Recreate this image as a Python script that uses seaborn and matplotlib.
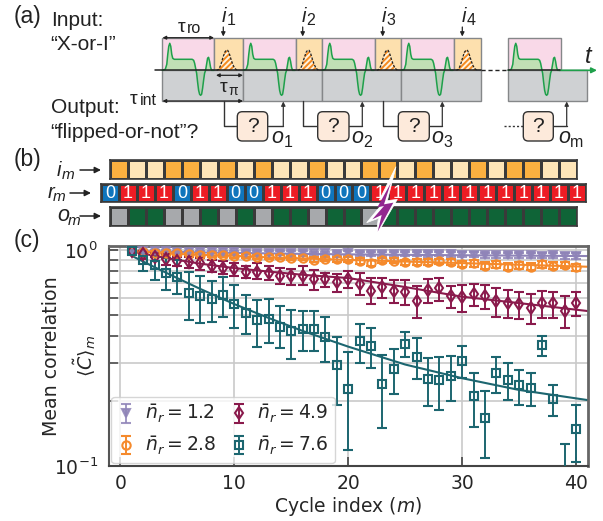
import numpy as np
import pandas as pd
import matplotlib
matplotlib.use("Agg")
import matplotlib.pyplot as plt
from matplotlib.colors import ListedColormap
from matplotlib.patches import Rectangle, Polygon, FancyBboxPatch
import seaborn as sns

# ---------- data: panel (c) ----------
cycles = list(range(1, 41))
purple_c = [.993,.989,.989,.986,.982,.982,.979,.979,.975,.975,.972,.972,.968,.972,.968,.968,.965,.965,.962,.965,
            .962,.958,.962,.958,.962,.958,.955,.958,.955,.951,.951,.948,.948,.944,.948,.944,.941,.944,.941,.941]
purple_e = [.004,.008,.010,.010,.012,.012,.014,.014,.015,.015,.016,.016,.017,.017,.018,.018,.018,.019,.019,.020,
            .020,.021,.021,.022,.022,.022,.023,.023,.024,.024,.025,.025,.025,.026,.026,.026,.027,.027,.028,.028]
orange_c = [.993,.975,.972,.965,.965,.955,.948,.948,.945,.941,.935,.928,.928,.928,.918,.918,.902,.909,.905,.905,
            .889,.874,.896,.893,.877,.883,.883,.886,.883,.864,.867,.846,.858,.837,.849,.837,.858,.846,.852,.834]
orange_e = [.005,.012,.014,.015,.015,.016,.017,.018,.018,.019,.020,.020,.021,.021,.022,.022,.023,.023,.024,.024,
            .025,.026,.025,.026,.027,.026,.027,.026,.027,.028,.028,.030,.029,.031,.030,.031,.030,.031,.030,.032]
maroon_c = [.993,.955,.931,.912,.893,.877,.867,.843,.826,.817,.788,.794,.783,.761,.755,.761,.731,.734,.708,.731,
            .694,.648,.676,.648,.641,.583,.650,.664,.612,.608,.625,.612,.581,.570,.560,.541,.566,.566,.522,.566]
maroon_lo = [.975,.909,.889,.852,.846,.822,.808,.788,.772,.761,.740,.732,.726,.696,.689,.689,.653,.676,.642,.664,
             .619,.562,.602,.570,.557,.486,.566,.581,.541,.514,.552,.533,.491,.482,.478,.453,.486,.486,.434,.495]
maroon_hi = [1.0,.990,.965,.955,.931,.931,.915,.899,.889,.867,.846,.867,.846,.822,.814,.846,.808,.780,.775,.800,
             .780,.739,.745,.726,.726,.681,.731,.739,.684,.689,.694,.689,.664,.653,.637,.625,.646,.641,.612,.637]
teal_c = [.993,.896,.849,.785,.748,.630,.610,.591,.617,.561,.513,.472,.481,.440,.420,.430,.430,.394,.294,.227,
          .378,.359,.239,.281,.366,.321,.254,.250,.260,.307,.212,.166,.269,.251,.236,.230,.362,.204,.090,.148]
teal_lo = [.975,.799,.729,.653,.626,.472,.461,.466,.489,.434,.407,.357,.371,.352,.313,.340,.341,.303,.191,.119,
           .299,.284,.150,.215,.321,.253,.190,.181,.200,.255,.152,.109,.217,.203,.192,.190,.322,.171,.060,.104]
teal_hi = [1.0,.965,.931,.915,.899,.788,.760,.721,.748,.689,.617,.587,.593,.552,.529,.520,.522,.488,.397,.336,
           .454,.434,.325,.347,.419,.391,.317,.321,.323,.359,.270,.222,.319,.300,.278,.270,.401,.236,.126,.191]

fit_m = [1, 3, 5, 7, 10, 13, 16, 20, 25, 30, 35, 41]
fit_purple = [.99, .985, .98, .975, .97, .965, .96, .955, .95, .946, .942, .938]
fit_orange = [.99, .975, .96, .95, .94, .925, .915, .90, .885, .87, .855, .837]
fit_maroon = [.985, .94, .90, .865, .825, .795, .768, .742, .674, .608, .568, .522]
fit_teal = [.94, .833, .741, .661, .562, .485, .422, .357, .295, .255, .225, .202]

labels_n = ["1.2", "2.8", "4.9", "7.6"]

# ---------- data: panel (b) ----------
input_bits  = [1,0,0,1,1,0,1,0,1,0,0,1,0,0,1,1,0,1,0,0,1,0,1,1,0,0]
result_bits = [0,1,1,1,0,1,1,0,0,1,1,1,0,0,0,1,1,1,1,1,1,1,1,1,1,1,1]
output_bits = [0,1,1,0,0,1,0,1,0,1,1,0,1,1,0,1,1,1,1,1,1,1,1,1,1,1]

# ---------- data: panel (a) schematic profiles ----------
sig_dx = [0,3,4.5,5.5,6.5,7.5,8.5,9.5,10.5,12,14,20,30,31.5,32.5,33.5,34.5,35.5,36.5,37.5,38.5,39.5,40.5,41.5,42.5,43.5,
          44.5,45.5,46.5,47.5,48.5,49.5,52]
sig_dy = [0,1,6,16,24,27,24,16,12,11,11,11,11,10,7,2,-3,-12,-20,-24,-25,-24,-18,-10,-3,0,
          6,12,13,9,3,0,0]
bump_dx = [0,2,4,6,8,9.5,11,12.5,14,16,18,20.5]
bump_dy = [0,1,5,12,18,20,20,17,12,6,2,0]

W, H = 603, 521
FONT = "Liberation Sans"
sns.set_theme(style="whitegrid")
plt.rcParams["font.family"] = ["DejaVu Sans"]
plt.rcParams["hatch.linewidth"] = 1.4
fig = plt.figure(figsize=(W / 100, H / 100), dpi=100)


def px_axes(x0, y0, x1, y1, **kw):
    return fig.add_axes([x0 / W, 1 - y1 / H, (x1 - x0) / W, (y1 - y0) / H], **kw)


# ---------- panel (c) ----------
ax = px_axes(109, 246, 587.5, 466)
ax.set_yscale("log")
series = [
    (purple_c, purple_e, None, "#8f84b8", "v", fit_purple),
    (orange_c, orange_e, None, "#f58a2c", "o", fit_orange),
    (maroon_c, maroon_lo, maroon_hi, "#8a1a4c", "d", fit_maroon),
    (teal_c, teal_lo, teal_hi, "#1c6670", "s", fit_teal),
]
for (c, lo, hi, col, mk, fit), lab in zip(series, labels_n):
    c_arr = np.array(c)
    if hi is None:
        yerr = [np.array(lo), np.array(lo)]
    else:
        yerr = [c_arr - np.array(lo), np.array(hi) - c_arr]
    fit_df = pd.DataFrame({"m": fit_m, "v": fit})
    sns.lineplot(data=fit_df, x="m", y="v", ax=ax, color=col, lw=1.5, errorbar=None,
                 legend=False, zorder=2)
    ax.errorbar(cycles, c, yerr=yerr, fmt=mk, color=col, mfc="none" if mk != "v" else col,
                mec=col, ms=6 if mk != "d" else 6.5, mew=1.5, elinewidth=1.4, capsize=3.8, capthick=1.4,
                label=r"$\bar{n}_r = %s$" % lab, zorder=3,
                alpha=0.85 if mk == "v" else 1)
ax.set_xlim(-1, 41)
ax.set_ylim(0.1, 1.044)
ax.set_xticks([0, 10, 20, 30, 40])
ax.grid(True, which="major", color="#c9c9c9", lw=1.2)
ax.grid(True, which="minor", axis="y", color="#c9c9c9", lw=1.2)
ax.set_axisbelow(True)
ax.tick_params(axis="both", which="major", direction="in", length=6.5, width=1.2, color="#444444",
               labelsize=13.5, labelcolor="#262626", pad=6, left=True, bottom=True)
ax.tick_params(axis="y", which="minor", direction="in", length=6.5, width=1.1, color="#444444", left=True)
ax.tick_params(axis="y", which="major", pad=8)
for s, col, lw in [("left", "#555555", 1.5), ("bottom", "#444444", 1.5), ("top", "#666666", 2), ("right", "#666666", 2)]:
    ax.spines[s].set_color(col)
    ax.spines[s].set_linewidth(lw)
    ax.spines[s].set_visible(True)
ax.set_xlabel(r"Cycle index ($m$)", fontsize=13.5, color="#262626", labelpad=1)
ax.set_ylabel("Mean correlation\n" + r"$\langle\tilde{C}\rangle_m$", fontsize=13.7, color="#262626", linespacing=1.5)
ax.yaxis.set_label_coords(-0.024, 0.5)
leg = ax.legend(ncol=2, loc="lower left", bbox_to_anchor=(0.004, 0.012), borderaxespad=0, fontsize=13.5,
                frameon=True, framealpha=0.8, edgecolor="#cccccc", columnspacing=0.75, handletextpad=0.5,
                handlelength=0.95, labelspacing=0.5, borderpad=0.35, fancybox=True)
for t in leg.get_texts():
    t.set_color("#262626")

# ---------- panel (b): heatmaps ----------
ink = "#3a3a3a"
rows = [
    ((110.3, 160.3, 576.7, 179), input_bits, ["#fee5b8", "#fbb040"], False),
    ((101, 184, 586, 202.3), result_bits, ["#0f75bc", "#ed1c24"], True),
    ((110.3, 207.3, 576.7, 226), output_bits, ["#a7a9ac", "#0f6437"], False),
]
for box, bits, cols, annot in rows:
    hax = px_axes(*box)
    arr = np.array([bits])
    sns.heatmap(arr, ax=hax, cmap=ListedColormap(cols), vmin=0, vmax=1, cbar=False, linewidths=0.8,
                linecolor=ink, annot=annot, fmt="d",
                annot_kws={"color": "white", "fontsize": 13, "family": FONT})
    hax.set_xticks([])
    hax.set_yticks([])
    hax.set_xlabel("")
    hax.set_ylabel("")
    for s in hax.spines.values():
        s.set_visible(True)
        s.set_color(ink)
        s.set_linewidth(1.2)

# ---------- overlay in pixels: panel (a), labels ----------
ov = fig.add_axes([0, 0, 1, 1], zorder=5)
ov.set_xlim(0, W)
ov.set_ylim(H, 0)
ov.axis("off")
ov.patch.set_alpha(0)

PINK, LORANGE, GRAY, EDGE = "#f9d9e8", "#fde0ae", "#cfd1d3", "#858789"
GLINE, GFILL = "#1fa04b", "#c1dfb5"
top, base, bot = 37.7, 70.3, 100.7
cycles_a = [(162.3, 214.3, 243.3), (243.3, 295.7, 322.3), (322.3, 374.7, 401.3), (401.3, 454, 481)]


def txt(x, y, s, size=15, style="normal", family=FONT, **kw):
    kw.setdefault("color", "#222222")
    ov.text(x, y, s, fontsize=size, style=style, family=family, va="baseline", ha=kw.pop("ha", "left"), **kw)


def arrow(x0, y0, x1, y1, style="-|>", lw=0.9, col="#222222", ms=7):
    ov.annotate("", xy=(x1, y1), xytext=(x0, y0),
                arrowprops=dict(arrowstyle=style, lw=lw, color=col, shrinkA=0, shrinkB=0, mutation_scale=ms))


def signal(x0):
    xs = x0 + np.array(sig_dx) * 0.995
    ys = base - np.array(sig_dy)
    ov.fill_between(xs, base, ys, where=np.array(sig_dy) >= 0, color=GFILL, lw=0, zorder=3, interpolate=True)
    ov.fill_between(xs, base, ys, where=np.array(sig_dy) <= 0, color="#b6cdb6", lw=0, zorder=3, interpolate=True)
    ov.plot(xs, ys, color=GLINE, lw=1.1, zorder=4)


def bump(x0):
    xs = x0 + np.array(bump_dx)
    ys = base - np.array(bump_dy)
    poly = Polygon(np.c_[xs, ys], closed=True, facecolor="#fff4df", edgecolor="#f58a1f", hatch="//////", lw=0, zorder=3)
    ov.add_patch(poly)
    ov.plot(xs, ys, color="#222222", lw=0.9, ls=(0, (2, 1.2)), zorder=4)


for x0, x1, x2 in cycles_a:
    ov.add_patch(Rectangle((x0, top), x1 - x0, base - top, fc=PINK, ec=EDGE, lw=1.0, zorder=1))
    ov.add_patch(Rectangle((x1, top), x2 - x1, base - top, fc=LORANGE, ec=EDGE, lw=1.0, zorder=1))
    ov.add_patch(Rectangle((x0, base), x2 - x0, bot - base, fc=GRAY, ec=EDGE, lw=1.0, zorder=1))
    signal(x0)
    bump(x1 + 2.4)
ov.add_patch(Rectangle((508.3, top), 52.4, base - top, fc=PINK, ec=EDGE, lw=1.0, zorder=1))
ov.add_patch(Rectangle((508.3, base), 79, bot - base, fc=GRAY, ec=EDGE, lw=1.0, zorder=1))
signal(508.3)

ov.plot([155, 481], [base, base], color="#222222", lw=1.1, zorder=5)
ov.plot([481, 508.3], [base, base], color="#222222", lw=1.0, ls=(0, (3, 2)), zorder=5)
ov.plot([508.3, 560], [base, base], color="#222222", lw=1.1, zorder=5)
arrow(559, base, 597, base, col=GLINE, lw=1.2, ms=8)

txt(14, 23, "(a)", size=16.5)
txt(14, 166, "(b)", size=16.5)
txt(14, 247, "(c)", size=16.5)
txt(50.7, 26, "Input:")
txt(50.7, 50, "\u201cX-or-I\u201d")
txt(50.7, 112.7, "Output:")
txt(50.7, 138.3, "\u201cflipped-or-not\u201d?")

txt(178, 32, "\u03c4", size=14)
txt(186.5, 33, "ro", size=11.5)
txt(220, 92, "\u03c4", size=14)
txt(228.5, 95, "\u03c0", size=10)
txt(130, 104, "\u03c4", size=14)
txt(139.5, 105, "int", size=11.5)
arrow(162.5, top, 214, top, style="<|-|>", ms=5)
arrow(216, 75.3, 243, 75.3, style="<|-|>", ms=5)
arrow(162.5, 101, 243, 101, style="<|-|>", ms=5)

for n, (tx, ax_x) in enumerate([(221.5, 223.3), (301.5, 302.7), (381.5, 382.7), (461.5, 462.3)], start=1):
    txt(tx, 21.5, "i", size=14.5, style="italic")
    txt(tx + 5, 24.7, str(n), size=11.5)
    arrow(ax_x, 27, ax_x, 36.5, ms=6)

boxes = [(237.3, 267.7, 224.3, 283.3, "1", 271.5), (317.7, 349, 303.3, 362.3, "2", 351.5),
         (398.3, 429.3, 383.3, 442.3, "3", 431.5), (523.3, 553.3, None, 566.7, "m", 558.3)]
ymid = 126
for bx0, bx1, lx, rx, sub, ox in boxes:
    ov.add_patch(FancyBboxPatch((bx0 + 3, 114.7), bx1 - bx0 - 6, 23.3, boxstyle="round,pad=3,rounding_size=5",
                                fc="#fdeadb", ec="#333333", lw=1.0, zorder=6))
    ov.text((bx0 + bx1) / 2, ymid + 0.5, "?", fontsize=15, family=FONT, ha="center", va="center", color="#222222", zorder=7)
    if lx is not None:
        ov.plot([lx, lx, bx0], [101, ymid, ymid], color="#333333", lw=1.0, zorder=5)
    else:
        ov.plot([504.3, bx0], [ymid, ymid], color="#333333", lw=1.0, ls=(0, (1.5, 1.5)), zorder=5)
    ov.plot([bx1, rx], [ymid, ymid], color="#333333", lw=1.0, zorder=5)
    arrow(rx, ymid, rx, 101.5, col="#333333", ms=6)
    txt(ox, 143, "o", size=15.5, style="italic")
    txt(ox + 12, 147, sub, size=11.5)
txt(585, 63.3, "t", size=17, style="italic")

txt(57, 176, "i", size=14.5, style="italic")
txt(61.5, 179, "m", size=11, style="italic")
txt(47.7, 198.3, "r", size=14.5, style="italic")
txt(53, 201, "m", size=11, style="italic")
txt(57, 221, "o", size=15.5, style="italic")
txt(68, 225, "m", size=11, style="italic")
arrow(80, 170, 101, 170, lw=1.1, ms=9)
arrow(70, 193, 91, 193, lw=1.1, ms=9)
arrow(80, 216, 101, 216, lw=1.1, ms=9)

# lightning bolt outline
zx = 300 + np.array([288, 238, 258, 200, 235, 228, 292, 262]) / 3
zy = 150 + np.array([50, 150, 148, 218, 205, 258, 148, 152]) / 3
ov.add_patch(Polygon(np.c_[zx, zy], closed=True, fc="white", ec="white", lw=0.5, zorder=8))
zx2 = 300 + np.array([272, 232, 252, 217, 245, 233, 280, 252]) / 3
zy2 = 150 + np.array([100, 172, 168, 208, 195, 245, 158, 163]) / 3
ov.add_patch(Polygon(np.c_[zx2, zy2], closed=True, fc="#92278f", ec="none", zorder=9))

fig.savefig("out.png", dpi=100)
